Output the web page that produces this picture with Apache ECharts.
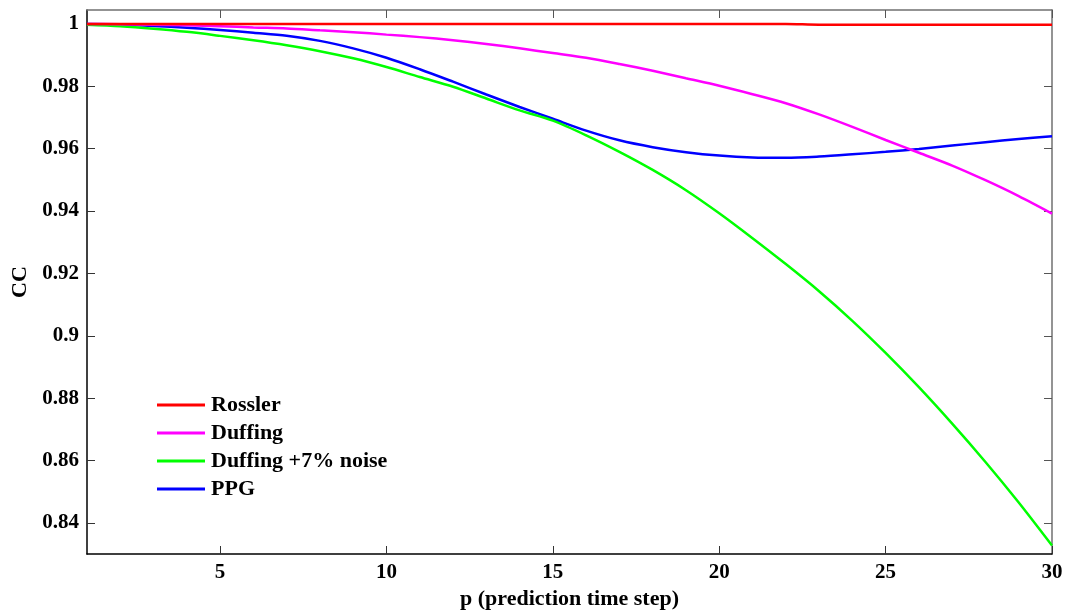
<!DOCTYPE html>
<html>
<head>
<meta charset="utf-8">
<script src="https://cdn.jsdelivr.net/npm/echarts@6/dist/echarts.min.js"></script>
<style>html,body{margin:0;padding:0;background:#fff}#c{width:1069px;height:615px}</style>
</head>
<body>
<div id="c"></div>
<script>
const pSteps = [1,2,3,4,5,6,7,8,9,10,11,12,13,14,15,16,17,18,19,20,21,22,23,24,25,26,27,28,29,30];
const rossler = [1,1,1,1,1,1,1,1,1,1,1,1,1,1,1,1,1,1,1,1,1,1,0.9998,0.9998,0.9998,0.9998,0.9998,0.9998,0.9998,0.9998];
const duffing = [1,0.99995,0.9998,0.9996,0.9993,0.9989,0.9986,0.9980,0.9974,0.9966,0.9958,0.9948,0.9936,0.9922,0.9907,0.9892,0.9872,0.9850,0.9826,0.9802,0.9775,0.9746,0.9710,0.9670,0.9628,0.9587,0.9546,0.9499,0.9448,0.9392];
const duffingNoise = [0.9998,0.9993,0.9985,0.9975,0.9962,0.9948,0.9932,0.9913,0.989,0.9862,0.9830,0.9799,0.9761,0.9723,0.9690,0.9643,0.9590,0.9532,0.9467,0.9393,0.9313,0.9230,0.9143,0.9048,0.8945,0.8835,0.8718,0.8595,0.8465,0.8327];
const ppg = [1,0.99985,0.9994,0.9988,0.9981,0.9972,0.99625,0.9946,0.9922,0.9892,0.9855,0.9815,0.9774,0.9734,0.9696,0.9658,0.9627,0.9605,0.9589,0.9578,0.9572,0.9571,0.9575,0.9582,0.9590,0.9599,0.9610,0.9621,0.9631,0.9640];
const xTicks = [5,10,15,20,25,30];
const yTicks = [0.84,0.86,0.88,0.9,0.92,0.94,0.96,0.98,1];
const seriesNames = ['Rossler','Duffing','Duffing +7% noise','PPG'];
const seriesColors = ['#ff0000','#ff00ff','#00ff00','#0000ff'];
const seriesData = [rossler, duffing, duffingNoise, ppg];

const FONT = 'Liberation Serif';
const chart = echarts.init(document.getElementById('c'), null, {renderer:'canvas'});
const pair = arr => pSteps.map((x,i)=>[x, arr[i]]);
const yFmt = v => (Math.abs(v-1)<1e-9 ? '1' : String(+v.toFixed(2)));

chart.setOption({
  animation:false,
  backgroundColor:'#fff',
  grid:{left:87,right:17,top:10,bottom:61,containLabel:false},
  legend:{
    orient:'vertical', left:152, top:389,
    icon:'rect', itemWidth:48, itemHeight:3, itemGap:6,
    data:seriesNames,
    textStyle:{fontFamily:FONT,fontWeight:'bold',fontSize:22,color:'#000',lineHeight:22,padding:[0,0,0,1]}
  },
  xAxis:[{
    type:'value', min:1, max:30, position:'bottom',
    name:'p (prediction time step)', nameLocation:'middle', nameGap:32,
    nameTextStyle:{fontFamily:FONT,fontWeight:'bold',fontSize:22,color:'#000'},
    axisLine:{show:true,onZero:false,lineStyle:{color:'#000',width:1.5}},
    axisTick:{show:true,inside:true,length:8,customValues:xTicks,lineStyle:{color:'#333'}},
    axisLabel:{customValues:xTicks,margin:8,fontFamily:FONT,fontWeight:'bold',fontSize:21,color:'#000'},
    splitLine:{show:false}
  },{
    type:'value', min:1, max:30, position:'top',
    axisLine:{show:true,onZero:false,lineStyle:{color:'#707070',width:1.5}},
    axisTick:{show:true,inside:true,length:8,customValues:xTicks,lineStyle:{color:'#555'}},
    axisLabel:{show:false},
    splitLine:{show:false}
  }],
  yAxis:[{
    type:'value', min:0.83, max:1.0045, position:'left',
    name:'CC', nameLocation:'middle', nameGap:55, nameRotate:90,
    nameTextStyle:{fontFamily:FONT,fontWeight:'bold',fontSize:22,color:'#000'},
    axisLine:{show:true,onZero:false,lineStyle:{color:'#000',width:1.5}},
    axisTick:{show:true,inside:true,length:8,customValues:yTicks,lineStyle:{color:'#333'}},
    axisLabel:{customValues:yTicks,margin:8,formatter:yFmt,fontFamily:FONT,fontWeight:'bold',fontSize:21,color:'#000'},
    splitLine:{show:false}
  },{
    type:'value', min:0.83, max:1.0045, position:'right',
    axisLine:{show:true,onZero:false,lineStyle:{color:'#707070',width:1.5}},
    axisTick:{show:true,inside:true,length:8,customValues:yTicks,lineStyle:{color:'#555'}},
    axisLabel:{show:false},
    splitLine:{show:false}
  }],
  series: seriesNames.map((n,i)=>({
    name:n, type:'line', xAxisIndex:0, yAxisIndex:0,
    data: pair(seriesData[i]),
    showSymbol:false, symbol:'none', smooth:0.3,
    lineStyle:{color:seriesColors[i],width:2.5},
    itemStyle:{color:seriesColors[i]},
    z: 10-i
  }))
});
</script>
</body>
</html>
